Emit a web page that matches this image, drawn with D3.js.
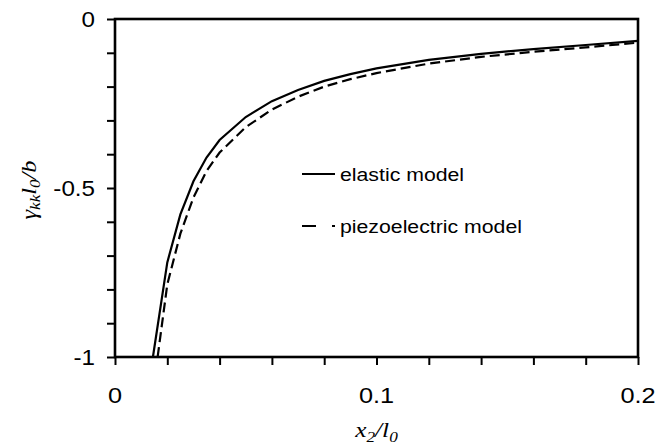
<!DOCTYPE html>
<html><head><meta charset="utf-8">
<script src="https://cdn.jsdelivr.net/npm/d3@7"></script>
<style>body{margin:0;background:#fff}</style>
</head><body>
<svg id="c" width="669" height="446"></svg>
<script>
// ---- data ----
const xElastic = [0.0145, 0.02, 0.025, 0.03, 0.035, 0.04, 0.05, 0.06, 0.07, 0.08, 0.09, 0.10, 0.12, 0.14, 0.16, 0.18, 0.20];
const yElastic = [-1.0, -0.72, -0.578, -0.48, -0.41, -0.358, -0.29, -0.243, -0.21, -0.183, -0.163, -0.146, -0.121, -0.103, -0.089, -0.077, -0.065];
const xPiezo = [0.0163, 0.02, 0.025, 0.03, 0.035, 0.04, 0.05, 0.06, 0.07, 0.08, 0.09, 0.10, 0.12, 0.14, 0.16, 0.18, 0.20];
const yPiezo = [-1.0, -0.785, -0.635, -0.528, -0.45, -0.395, -0.32, -0.268, -0.23, -0.200, -0.178, -0.16, -0.132, -0.112, -0.097, -0.084, -0.070];
const xTickLabels = [0, 0.1, 0.2];
const yTickLabels = [0, -0.5, -1];
const xMinorTicks = [0, 0.02, 0.04, 0.06, 0.08, 0.1, 0.12, 0.14, 0.16, 0.18, 0.2];
const yMinorTicks = [0, -0.1, -0.2, -0.3, -0.4, -0.5, -0.6, -0.7, -0.8, -0.9, -1];
const seriesNames = ["elastic model", "piezoelectric model"];

const svg = d3.select('#c');
const x = d3.scaleLinear().domain([0, 0.2]).range([115, 638]);
const y = d3.scaleLinear().domain([-1, 0]).range([357, 19]);
const SX = 1.15;

// curves
const line = d3.line().x(d => x(d[0])).y(d => y(d[1]));
svg.append('path').datum(d3.zip(xElastic, yElastic))
  .attr('d', line).attr('fill', 'none').attr('stroke', '#000').attr('stroke-width', 2.2);
svg.append('path').datum(d3.zip(xPiezo, yPiezo))
  .attr('d', line).attr('fill', 'none').attr('stroke', '#000').attr('stroke-width', 2.2)
  .attr('stroke-dasharray', '10,5');

// frame
svg.append('rect').attr('x', x(0)).attr('y', y(0)).attr('width', x(0.2) - x(0)).attr('height', y(-1) - y(0))
  .attr('fill', 'none').attr('stroke', '#000').attr('stroke-width', 2.6);

// ticks
svg.append('g').attr('transform', `translate(0,${y(-1)})`)
  .call(d3.axisBottom(x).tickValues(xMinorTicks).tickSize(8).tickFormat(''))
  .call(g => { g.select('.domain').remove(); g.selectAll('line').attr('stroke-width', 2); });
svg.append('g').attr('transform', `translate(${x(0)},0)`)
  .call(d3.axisLeft(y).tickValues(yMinorTicks).tickSize(8).tickFormat(''))
  .call(g => { g.select('.domain').remove(); g.selectAll('line').attr('stroke-width', 2); });

// tick labels (plain hyphen minus as in the reference)
const fmt = d => String(d);
svg.selectAll('text.xt').data(xTickLabels).join('text').attr('class', 'xt')
  .attr('transform', d => `translate(${x(d)},403) scale(${SX},1)`)
  .attr('text-anchor', 'middle').attr('font-family', 'Liberation Sans, Arial, sans-serif')
  .attr('font-size', 22).text(fmt);
svg.selectAll('text.yt').data(yTickLabels).join('text').attr('class', 'yt')
  .attr('transform', d => `translate(${x(0) - 20},${y(d) + 8}) scale(1.1,1)`)
  .attr('text-anchor', 'end').attr('font-family', 'Liberation Sans, Arial, sans-serif')
  .attr('font-size', 22).text(fmt);

// axis titles
const xt = svg.append('text').attr('transform', `translate(${(x(0) + x(0.2)) / 2},437) scale(${SX},1)`)
  .attr('text-anchor', 'middle').attr('font-family', 'Liberation Serif, Times New Roman, serif')
  .attr('font-style', 'italic').attr('font-size', 22);
xt.append('tspan').text('x');
xt.append('tspan').attr('font-size', 15).attr('dy', 5).text('2');
xt.append('tspan').attr('dy', -5).text('/l');
xt.append('tspan').attr('font-size', 15).attr('dy', 5).text('0');

const yt = svg.append('text').attr('transform', `translate(36,${(y(0) + y(-1)) / 2 + 2}) rotate(-90) scale(1.22,1)`)
  .attr('text-anchor', 'middle').attr('font-family', 'Liberation Serif, Times New Roman, serif')
  .attr('font-style', 'italic').attr('font-size', 20);
yt.append('tspan').text('γ');
yt.append('tspan').attr('font-size', 14).attr('dy', 4).text('kk');
yt.append('tspan').attr('dy', -4).text('l');
yt.append('tspan').attr('font-size', 14).attr('dy', 4).text('0');
yt.append('tspan').attr('dy', -4).text('/b');

// legend
const leg = svg.append('g');
const rows = [{ y: 174, dash: null }, { y: 226, dash: '14,16,3' }];
rows.forEach((r, i) => {
  leg.append('line').attr('x1', 302).attr('x2', 335).attr('y1', r.y).attr('y2', r.y)
    .attr('stroke', '#000').attr('stroke-width', 2.2).attr('stroke-dasharray', r.dash);
  leg.append('text').attr('transform', `translate(340,${r.y + 7}) scale(${SX},1)`)
    .attr('font-family', 'Liberation Sans, Arial, sans-serif').attr('font-size', 18.5)
    .text(seriesNames[i]);
});
</script>
</body></html>
